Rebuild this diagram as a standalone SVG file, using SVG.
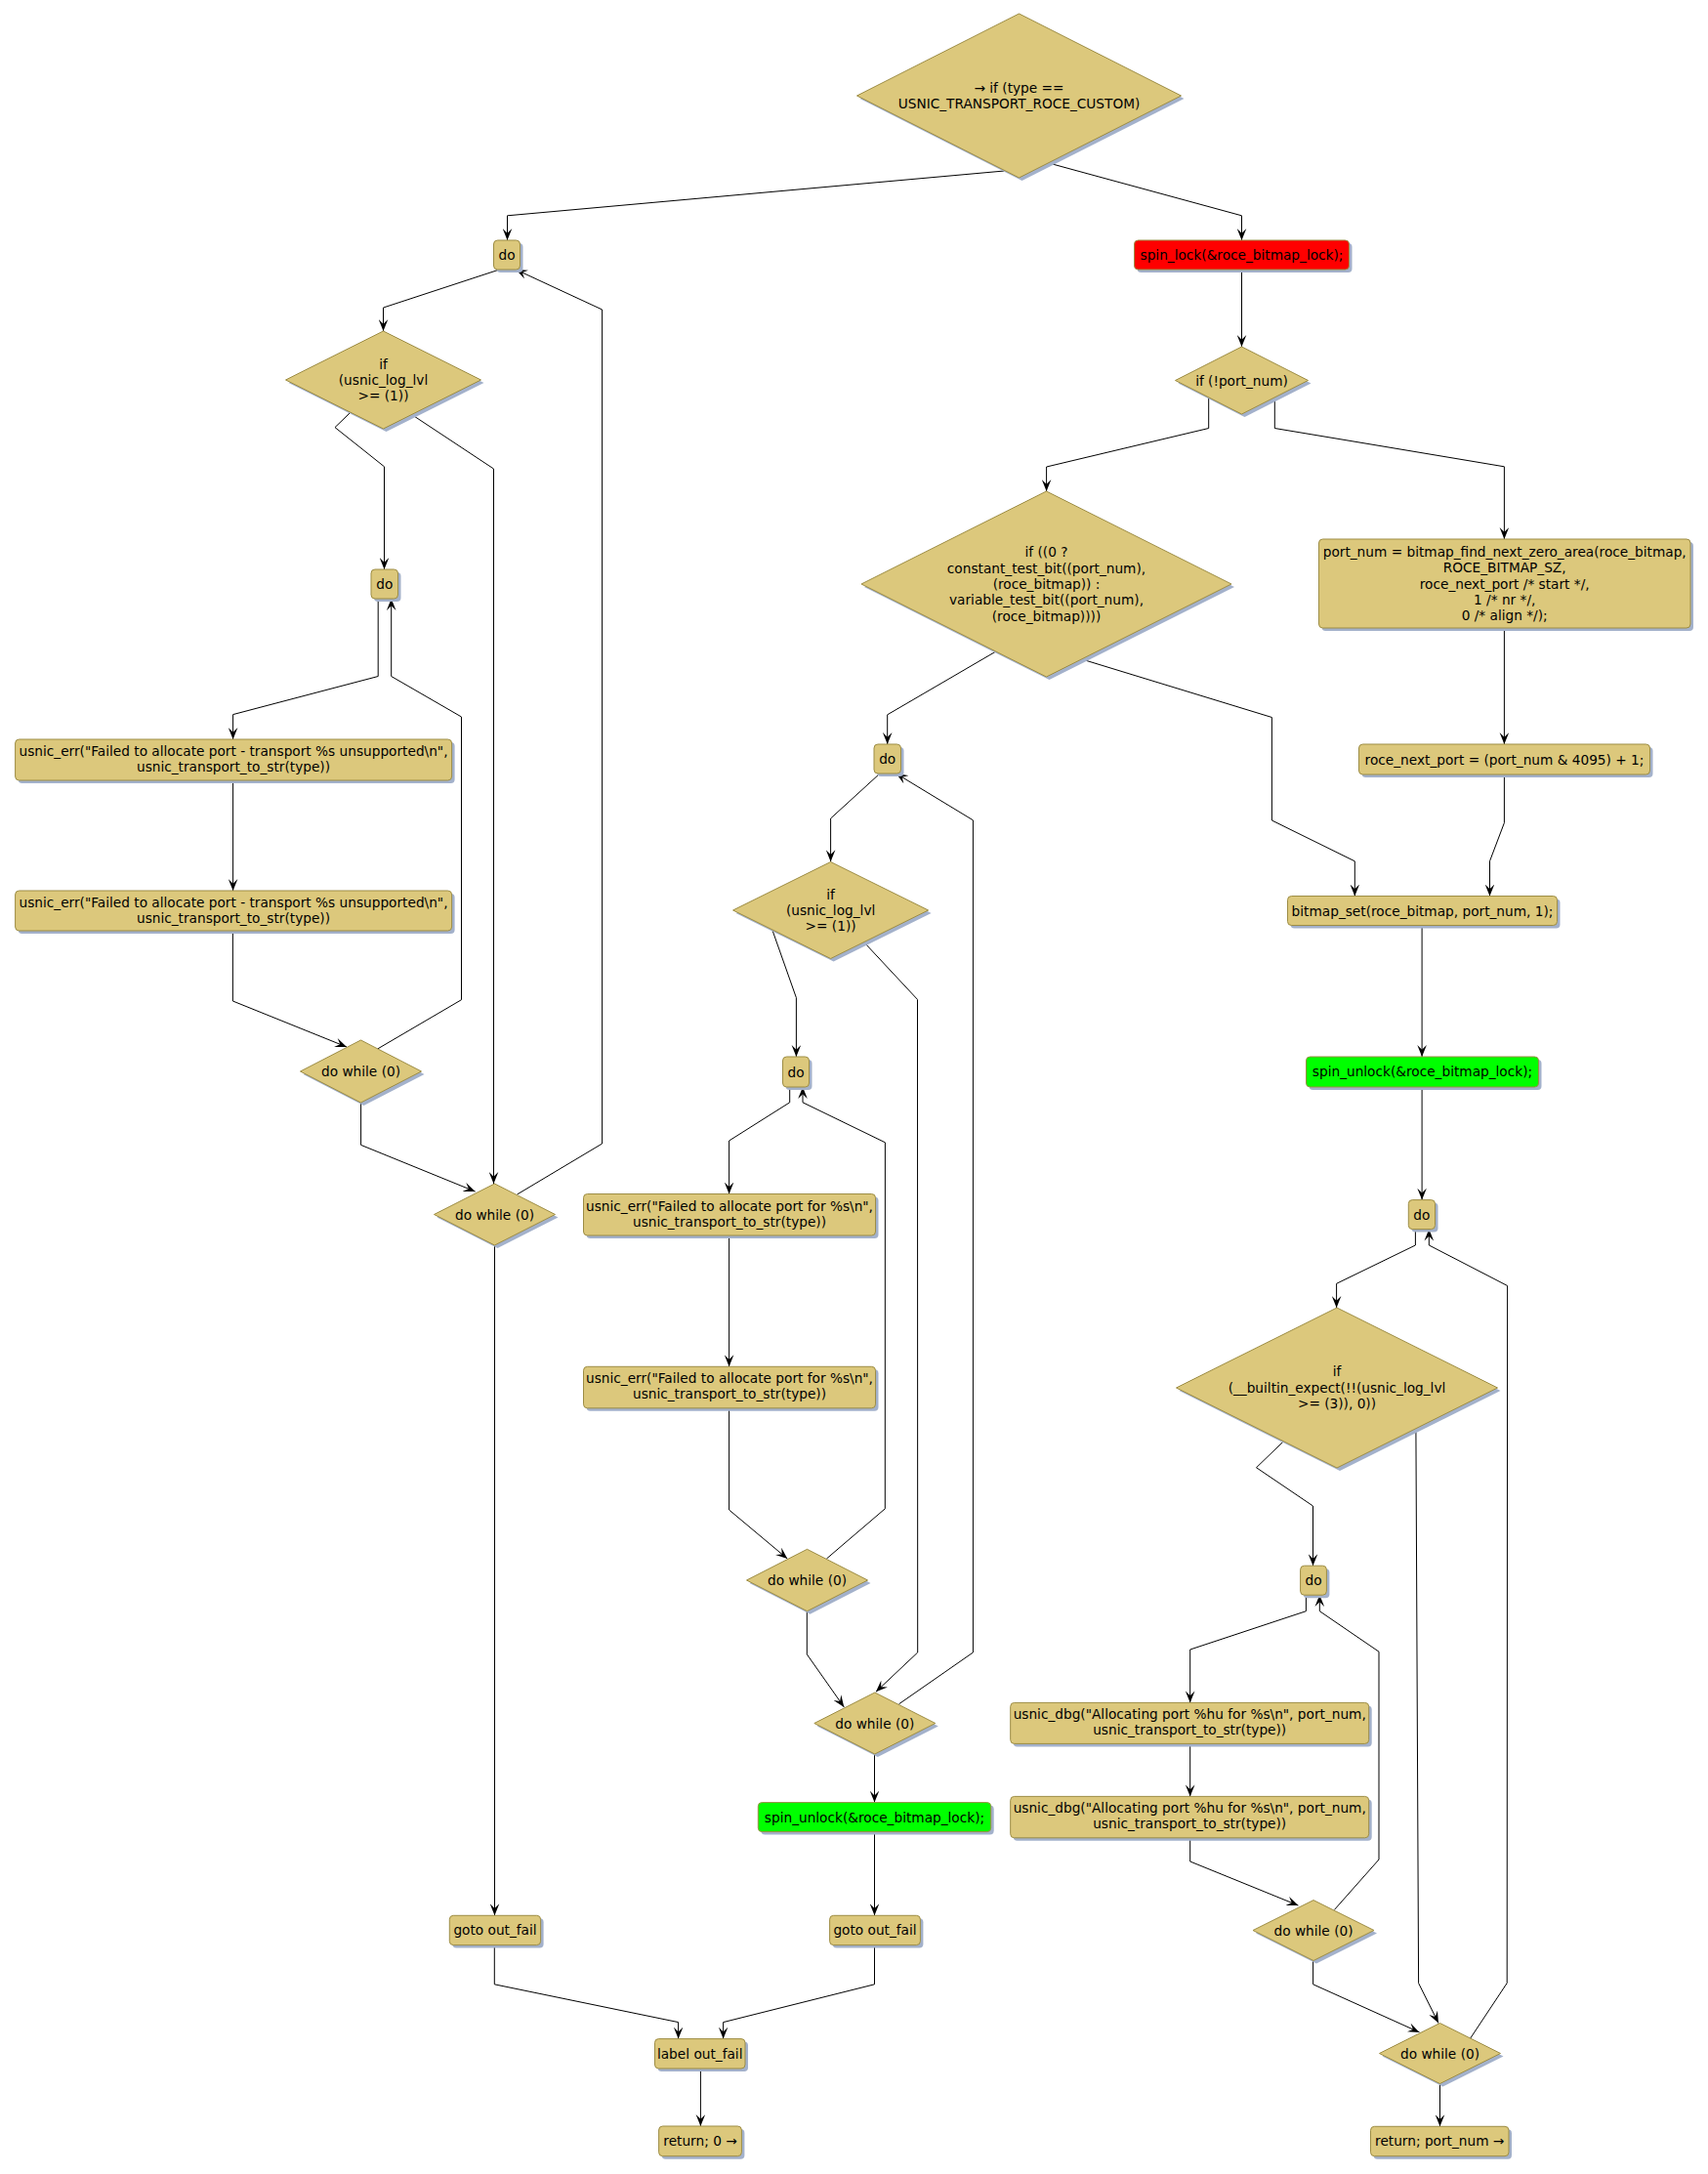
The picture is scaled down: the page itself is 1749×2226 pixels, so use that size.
<svg xmlns="http://www.w3.org/2000/svg" width="1749" height="2226" viewBox="0 0 1749 2226">
<style>
.n{fill:#DCC87C;stroke:#9D8D45;stroke-width:1}
.r{fill:#FF0000;stroke:#9D8D45;stroke-width:1}
.g{fill:#00FF00;stroke:#9D8D45;stroke-width:1}
.sh{fill:#A3B1CB;stroke:none}
text{font-family:"DejaVu Sans","Liberation Sans",sans-serif;font-size:13.7px;fill:#000;text-anchor:middle}
.e{fill:none;stroke:#000;stroke-width:1;marker-end:url(#ah)}
</style>
<defs>
<marker id="ah" markerUnits="userSpaceOnUse" markerWidth="12" markerHeight="10" viewBox="0 0 10 8" refX="10" refY="4" orient="auto">
<path d="M0,0 L10,4 L0,8 L4,4 Z" fill="#000"/>
</marker>
</defs>
<rect width="1749" height="2226" fill="#FFFFFF"/>
<g id="connectors">
<polyline class="e" points="1028.4,175 519.5,220.8 519.5,246"/>
<polyline class="e" points="1074,167 1271.5,220.8 1271.5,246"/>
<polyline class="e" points="511.4,276 392.5,315 392.5,339"/>
<polyline class="e" points="529.5,1223 616.6,1171 616.6,317 528.2,276"/>
<polyline class="e" points="358.6,422.5 343,437.6 393.5,477.8 393.5,583"/>
<polyline class="e" points="420.9,424 505.5,480 505.5,1212"/>
<polyline class="e" points="387.2,613 387.2,692.5 238.6,731.6 238.6,757"/>
<polyline class="e" points="386.6,1074 472.5,1023.7 472.5,734 400.7,692.5 400.7,613"/>
<polyline class="e" points="238.6,799 238.6,912"/>
<polyline class="e" points="238.4,953 238.4,1025 355,1072"/>
<polyline class="e" points="369.6,1129 369.6,1172.4 486.6,1220"/>
<polyline class="e" points="506.5,1275 506.5,1961.3"/>
<polyline class="e" points="1271.5,276 1271.5,355"/>
<polyline class="e" points="1237.7,406 1237.7,438.5 1071.6,478 1071.6,503"/>
<polyline class="e" points="1305.3,406 1305.3,438.5 1540.4,477.8 1540.4,552"/>
<polyline class="e" points="1019,667.5 908.7,731.8 908.7,762"/>
<polyline class="e" points="1107.8,675 1302.4,734.5 1302.4,840 1387.3,881.8 1387.3,917.5"/>
<polyline class="e" points="1540.4,643 1540.4,762"/>
<polyline class="e" points="1540.4,793 1540.4,842.5 1525.5,881.8 1525.5,917.5"/>
<polyline class="e" points="901,792 850.6,838 850.6,882.3"/>
<polyline class="e" points="920.5,1744.8 996.4,1692 996.4,839.8 917.6,792"/>
<polyline class="e" points="790.8,952 815.4,1021.6 815.4,1082"/>
<polyline class="e" points="885,965 939.5,1023.4 939.7,1692 896.9,1732.3"/>
<polyline class="e" points="808.7,1113 808.7,1128.8 746.6,1168 746.6,1222.5"/>
<polyline class="e" points="846.4,1596 906.3,1544.8 906.4,1169.8 822,1128.8 822,1113"/>
<polyline class="e" points="746.6,1265 746.6,1399.3"/>
<polyline class="e" points="746.6,1441.7 746.6,1546 806.3,1596"/>
<polyline class="e" points="826.3,1649.7 826.3,1693.9 864.3,1747.9"/>
<polyline class="e" points="895.5,1796 895.5,1845.6"/>
<polyline class="e" points="895.5,1875.6 895.5,1961.3"/>
<polyline class="e" points="506.3,1991.6 506.3,2031.8 694.6,2070.6 694.6,2087.6"/>
<polyline class="e" points="895.5,1991.6 895.5,2031.8 740.6,2070.6 740.6,2087.6"/>
<polyline class="e" points="717.4,2118 717.4,2177"/>
<polyline class="e" points="1456.1,947.5 1456.1,1082"/>
<polyline class="e" points="1456.1,1113 1456.1,1228.6"/>
<polyline class="e" points="1449.4,1258.5 1449.4,1275 1368.6,1314.3 1368.6,1339"/>
<polyline class="e" points="1505.7,2087 1543.2,2030.5 1543.6,1316.5 1463.3,1275 1463.3,1258.5"/>
<polyline class="e" points="1314.2,1476 1286.5,1502.7 1344.5,1542 1344.5,1603.2"/>
<polyline class="e" points="1449.9,1461 1452.6,2030.5 1473,2071.5"/>
<polyline class="e" points="1337.4,1633 1337.4,1649.7 1218.7,1689 1218.7,1743.4"/>
<polyline class="e" points="1366.4,1955.5 1412,1904 1412,1691.2 1351.3,1649.7 1351.3,1633"/>
<polyline class="e" points="1218.7,1785.4 1218.7,1839.4"/>
<polyline class="e" points="1218.7,1881.8 1218.7,1906 1329.4,1951"/>
<polyline class="e" points="1344.6,2007.7 1344.6,2031.8 1453.5,2080.9"/>
<polyline class="e" points="1474.5,2133.6 1474.5,2177.3"/>
</g>
<g id="n1">
<polygon class="sh" transform="translate(3,3)" points="1043.5,14 1209.5,98 1043.5,182 877.5,98"/>
<polygon class="n" points="1043.5,14 1209.5,98 1043.5,182 877.5,98"/>
<text x="1043.5" y="95">→ if (type ==</text>
<text x="1043.5" y="111">USNIC_TRANSPORT_ROCE_CUSTOM)</text>
</g>
<g id="n2">
<rect class="sh" x="508.5" y="249" width="27" height="30" rx="4"/>
<rect class="n" x="505.5" y="246" width="27" height="30" rx="4"/>
<text x="519" y="266">do</text>
</g>
<g id="n3">
<rect class="sh" x="1164.5" y="249" width="220" height="30" rx="4"/>
<rect class="r" x="1161.5" y="246" width="220" height="30" rx="4"/>
<text x="1271.5" y="266">spin_lock(&amp;roce_bitmap_lock);</text>
</g>
<g id="n4">
<polygon class="sh" transform="translate(3,3)" points="392.5,339 492.5,389 392.5,439 292.5,389"/>
<polygon class="n" points="392.5,339 492.5,389 392.5,439 292.5,389"/>
<text x="392.5" y="377.5">if</text>
<text x="392.5" y="394">(usnic_log_lvl</text>
<text x="392.5" y="410">&gt;= (1))</text>
</g>
<g id="n5">
<polygon class="sh" transform="translate(3,3)" points="1271.5,355 1339.5,389.5 1271.5,424 1203.5,389.5"/>
<polygon class="n" points="1271.5,355 1339.5,389.5 1271.5,424 1203.5,389.5"/>
<text x="1271.5" y="394.5">if (!port_num)</text>
</g>
<g id="n6">
<rect class="sh" x="383" y="586" width="27.5" height="30" rx="4"/>
<rect class="n" x="380" y="583" width="27.5" height="30" rx="4"/>
<text x="393.8" y="603">do</text>
</g>
<g id="n7">
<polygon class="sh" transform="translate(3,3)" points="1071.5,503 1261,598 1071.5,693 882,598"/>
<polygon class="n" points="1071.5,503 1261,598 1071.5,693 882,598"/>
<text x="1071.5" y="570.4">if ((0 ?</text>
<text x="1071.5" y="586.7">constant_test_bit((port_num),</text>
<text x="1071.5" y="603">(roce_bitmap)) :</text>
<text x="1071.5" y="619.3">variable_test_bit((port_num),</text>
<text x="1071.5" y="635.6">(roce_bitmap))))</text>
</g>
<g id="n8">
<rect class="sh" x="1353.5" y="555" width="380.5" height="91" rx="4"/>
<rect class="n" x="1350.5" y="552" width="380.5" height="91" rx="4"/>
<text x="1540.7" y="569.9">port_num = bitmap_find_next_zero_area(roce_bitmap,</text>
<text x="1540.7" y="586.2">ROCE_BITMAP_SZ,</text>
<text x="1540.7" y="602.5">roce_next_port /* start */,</text>
<text x="1540.7" y="618.8">1 /* nr */,</text>
<text x="1540.7" y="635.1">0 /* align */);</text>
</g>
<g id="n9">
<rect class="sh" x="18.6" y="760" width="447" height="42" rx="4"/>
<rect class="n" x="15.6" y="757" width="447" height="42" rx="4"/>
<text x="239" y="774">usnic_err("Failed to allocate port - transport %s unsupported\n",</text>
<text x="239" y="790">usnic_transport_to_str(type))</text>
</g>
<g id="n10">
<rect class="sh" x="18.6" y="915" width="447" height="41" rx="4"/>
<rect class="n" x="15.6" y="912" width="447" height="41" rx="4"/>
<text x="239" y="929">usnic_err("Failed to allocate port - transport %s unsupported\n",</text>
<text x="239" y="945">usnic_transport_to_str(type))</text>
</g>
<g id="n11">
<rect class="sh" x="898" y="765" width="27.5" height="30" rx="4"/>
<rect class="n" x="895" y="762" width="27.5" height="30" rx="4"/>
<text x="908.7" y="782">do</text>
</g>
<g id="n12">
<rect class="sh" x="1394.5" y="765" width="298" height="31" rx="4"/>
<rect class="n" x="1391.5" y="762" width="298" height="31" rx="4"/>
<text x="1540.5" y="782.5">roce_next_port = (port_num &amp; 4095) + 1;</text>
</g>
<g id="n13">
<polygon class="sh" transform="translate(3,3)" points="850.6,882.5 950.6,932 850.6,981.5 750.6,932"/>
<polygon class="n" points="850.6,882.5 950.6,932 850.6,981.5 750.6,932"/>
<text x="850.6" y="920.5">if</text>
<text x="850.6" y="937">(usnic_log_lvl</text>
<text x="850.6" y="953">&gt;= (1))</text>
</g>
<g id="n14">
<rect class="sh" x="1321.5" y="920.5" width="276" height="30" rx="4"/>
<rect class="n" x="1318.5" y="917.5" width="276" height="30" rx="4"/>
<text x="1456.5" y="937.5">bitmap_set(roce_bitmap, port_num, 1);</text>
</g>
<g id="n15">
<polygon class="sh" transform="translate(3,3)" points="369.5,1065 431.5,1097 369.5,1129 307.5,1097"/>
<polygon class="n" points="369.5,1065 431.5,1097 369.5,1129 307.5,1097"/>
<text x="369.5" y="1102">do while (0)</text>
</g>
<g id="n16">
<rect class="sh" x="804.5" y="1085" width="27" height="31" rx="4"/>
<rect class="n" x="801.5" y="1082" width="27" height="31" rx="4"/>
<text x="815" y="1102.5">do</text>
</g>
<g id="n17">
<rect class="sh" x="1340.5" y="1085" width="238" height="31" rx="4"/>
<rect class="g" x="1337.5" y="1082" width="238" height="31" rx="4"/>
<text x="1456.5" y="1102">spin_unlock(&amp;roce_bitmap_lock);</text>
</g>
<g id="n18">
<polygon class="sh" transform="translate(3,3)" points="506.5,1212 568.5,1243.5 506.5,1275 444.5,1243.5"/>
<polygon class="n" points="506.5,1212 568.5,1243.5 506.5,1275 444.5,1243.5"/>
<text x="506.5" y="1248.5">do while (0)</text>
</g>
<g id="n19">
<rect class="sh" x="600.5" y="1225.5" width="299" height="42.5" rx="4"/>
<rect class="n" x="597.5" y="1222.5" width="299" height="42.5" rx="4"/>
<text x="747" y="1239.5">usnic_err("Failed to allocate port for %s\n",</text>
<text x="747" y="1255.5">usnic_transport_to_str(type))</text>
</g>
<g id="n20">
<rect class="sh" x="1445.3" y="1231.6" width="27.2" height="30" rx="4"/>
<rect class="n" x="1442.3" y="1228.6" width="27.2" height="30" rx="4"/>
<text x="1455.9" y="1248.6">do</text>
</g>
<g id="n21">
<polygon class="sh" transform="translate(3,3)" points="1369,1339 1533.5,1421 1369,1503 1204.5,1421"/>
<polygon class="n" points="1369,1339 1533.5,1421 1369,1503 1204.5,1421"/>
<text x="1369" y="1408.5">if</text>
<text x="1369" y="1425.5">(__builtin_expect(!!(usnic_log_lvl</text>
<text x="1369" y="1442">&gt;= (3)), 0))</text>
</g>
<g id="n22">
<rect class="sh" x="600.5" y="1402.3" width="299" height="42.5" rx="4"/>
<rect class="n" x="597.5" y="1399.3" width="299" height="42.5" rx="4"/>
<text x="747" y="1416.3">usnic_err("Failed to allocate port for %s\n",</text>
<text x="747" y="1432.3">usnic_transport_to_str(type))</text>
</g>
<g id="n23">
<polygon class="sh" transform="translate(3,3)" points="826.5,1586.3 888.5,1618 826.5,1649.7 764.5,1618"/>
<polygon class="n" points="826.5,1586.3 888.5,1618 826.5,1649.7 764.5,1618"/>
<text x="826.5" y="1623">do while (0)</text>
</g>
<g id="n24">
<rect class="sh" x="1334.6" y="1606.2" width="26.8" height="30" rx="4"/>
<rect class="n" x="1331.6" y="1603.2" width="26.8" height="30" rx="4"/>
<text x="1345" y="1623.2">do</text>
</g>
<g id="n25">
<rect class="sh" x="1037.7" y="1746.4" width="367" height="42" rx="4"/>
<rect class="n" x="1034.7" y="1743.4" width="367" height="42" rx="4"/>
<text x="1218.2" y="1760.4">usnic_dbg("Allocating port %hu for %s\n", port_num,</text>
<text x="1218.2" y="1776.4">usnic_transport_to_str(type))</text>
</g>
<g id="n26">
<polygon class="sh" transform="translate(3,3)" points="895.8,1733 957.8,1764.5 895.8,1796 833.8,1764.5"/>
<polygon class="n" points="895.8,1733 957.8,1764.5 895.8,1796 833.8,1764.5"/>
<text x="895.8" y="1769.5">do while (0)</text>
</g>
<g id="n27">
<rect class="sh" x="779.3" y="1848.6" width="238.4" height="30" rx="4"/>
<rect class="g" x="776.3" y="1845.6" width="238.4" height="30" rx="4"/>
<text x="895.5" y="1865.6">spin_unlock(&amp;roce_bitmap_lock);</text>
</g>
<g id="n28">
<rect class="sh" x="1037.7" y="1842.4" width="367" height="42.4" rx="4"/>
<rect class="n" x="1034.7" y="1839.4" width="367" height="42.4" rx="4"/>
<text x="1218.2" y="1856.4">usnic_dbg("Allocating port %hu for %s\n", port_num,</text>
<text x="1218.2" y="1872.4">usnic_transport_to_str(type))</text>
</g>
<g id="n29">
<rect class="sh" x="463.3" y="1964.3" width="93.3" height="30.3" rx="4"/>
<rect class="n" x="460.3" y="1961.3" width="93.3" height="30.3" rx="4"/>
<text x="507" y="1981.3">goto out_fail</text>
</g>
<g id="n30">
<rect class="sh" x="852.6" y="1964.3" width="92.8" height="30.3" rx="4"/>
<rect class="n" x="849.6" y="1961.3" width="92.8" height="30.3" rx="4"/>
<text x="896" y="1981.3">goto out_fail</text>
</g>
<g id="n31">
<polygon class="sh" transform="translate(3,3)" points="1345,1945.6 1407,1976.5 1345,2007.5 1283,1976.5"/>
<polygon class="n" points="1345,1945.6 1407,1976.5 1345,2007.5 1283,1976.5"/>
<text x="1345" y="1981.5">do while (0)</text>
</g>
<g id="n32">
<rect class="sh" x="673.5" y="2090.6" width="92.5" height="30.4" rx="4"/>
<rect class="n" x="670.5" y="2087.6" width="92.5" height="30.4" rx="4"/>
<text x="716.7" y="2107.6">label out_fail</text>
</g>
<g id="n33">
<polygon class="sh" transform="translate(3,3)" points="1474.5,2071.5 1536.5,2102.5 1474.5,2133.5 1412.5,2102.5"/>
<polygon class="n" points="1474.5,2071.5 1536.5,2102.5 1474.5,2133.5 1412.5,2102.5"/>
<text x="1474.5" y="2107.5">do while (0)</text>
</g>
<g id="n34">
<rect class="sh" x="677.6" y="2180" width="84.8" height="30.7" rx="4"/>
<rect class="n" x="674.6" y="2177" width="84.8" height="30.7" rx="4"/>
<text x="717" y="2197">return; 0 →</text>
</g>
<g id="n35">
<rect class="sh" x="1406.5" y="2180.3" width="141.5" height="30.4" rx="4"/>
<rect class="n" x="1403.5" y="2177.3" width="141.5" height="30.4" rx="4"/>
<text x="1474.2" y="2197.3">return; port_num →</text>
</g>
</svg>
